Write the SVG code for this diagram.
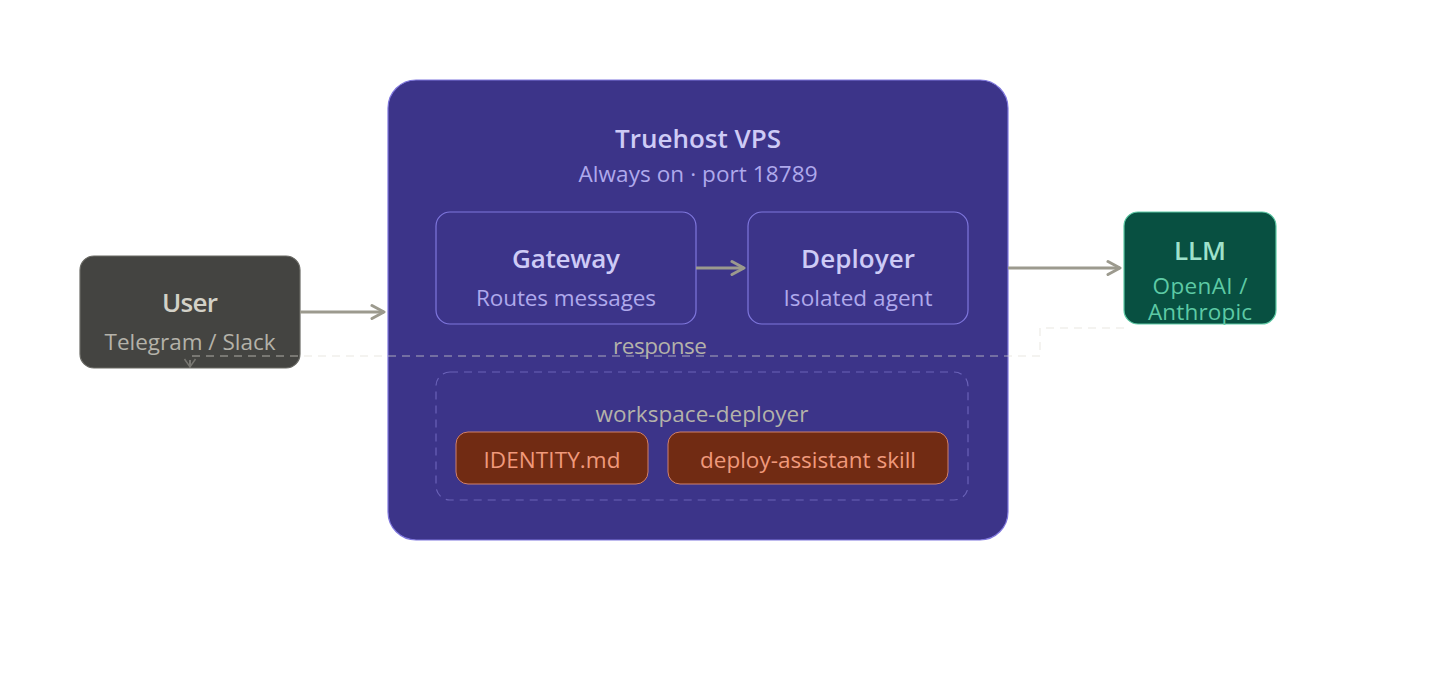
<svg xmlns="http://www.w3.org/2000/svg" width="1440" height="680" viewBox="0 0 1440 680">
<style>
text{font-family:"Open Sans","Noto Sans","Liberation Sans",sans-serif;text-anchor:middle}
.t{font-size:26px;font-weight:600}
.s{font-size:22.5px}
.a{fill:none;stroke:#9c9a8e;stroke-width:3}
.d{fill:none;stroke:#e0ded5;stroke-width:1.5;stroke-dasharray:8 6;opacity:.45}
</style>
<defs>
<marker id="ah" markerWidth="16" markerHeight="18" refX="14" refY="9" orient="auto" markerUnits="userSpaceOnUse"><path d="M2 2.5L14 9L2 15.5" fill="none" stroke="#9c9a8e" stroke-width="3" stroke-linecap="round" stroke-linejoin="round"/></marker>
<marker id="ad" markerWidth="12" markerHeight="14" refX="10" refY="7" orient="auto" markerUnits="userSpaceOnUse"><path d="M2 1.5L10 7L2 12.5" fill="none" stroke="#b4b2a9" stroke-width="1.5"/></marker>
</defs>
<rect width="1440" height="680" fill="#fff"/>
<g id="vps">
<rect x="388" y="80" width="620" height="460" rx="28" fill="#3c3489" stroke="#7f77dd" stroke-width="1.2"/>
<text class="t" x="698" y="148" fill="#cecbf6" textLength="166">Truehost VPS</text>
<text class="s" x="698" y="182" fill="#afa9ec" textLength="239">Always on · port 18789</text>
</g>
<g id="user">
<rect x="80" y="256" width="220" height="112" rx="14" fill="#444441" stroke="#6a6a65" stroke-width="1.2"/>
<text class="t" x="190" y="312" fill="#d3d1c7" textLength="56">User</text>
<text class="s" x="190" y="350" fill="#b4b2a9" textLength="171">Telegram / Slack</text>
</g>
<g id="gateway">
<rect x="436" y="212" width="260" height="112" rx="14" fill="#3c3489" stroke="#7f77dd" stroke-width="1.2"/>
<text class="t" x="566" y="268" fill="#cecbf6" textLength="108">Gateway</text>
<text class="s" x="566" y="306" fill="#afa9ec" textLength="180">Routes messages</text>
</g>
<g id="deployer">
<rect x="748" y="212" width="220" height="112" rx="14" fill="#3c3489" stroke="#7f77dd" stroke-width="1.2"/>
<text class="t" x="858" y="268" fill="#cecbf6" textLength="114">Deployer</text>
<text class="s" x="858" y="306" fill="#afa9ec" textLength="149">Isolated agent</text>
</g>
<g id="workspace">
<rect x="436" y="372" width="532" height="128" rx="14" fill="none" stroke="#6a62b8" stroke-width="1.2" stroke-dasharray="8 6"/>
<text class="s" x="702" y="422" fill="#b4b2a9" textLength="213">workspace-deployer</text>
</g>
<g id="identity">
<rect x="456" y="432" width="192" height="52" rx="12" fill="#712b13" stroke="#d0806a"/>
<text class="s" x="552" y="468" fill="#f0997b" textLength="137">IDENTITY.md</text>
</g>
<g id="skill">
<rect x="668" y="432" width="280" height="52" rx="12" fill="#712b13" stroke="#d0806a"/>
<text class="s" x="808" y="468" fill="#f0997b" textLength="216">deploy-assistant skill</text>
</g>
<g id="llm">
<rect x="1124" y="212" width="152" height="112" rx="14" fill="#085041" stroke="#5dcaa5" stroke-width="1.2"/>
<text class="t" x="1200" y="260" fill="#9fe1cb" textLength="52">LLM</text>
<text class="s" x="1200" y="294" fill="#5dcaa5" textLength="95">OpenAI /</text>
<text class="s" x="1200" y="320" fill="#5dcaa5" textLength="104">Anthropic</text>
</g>
<g id="connectors">
<path class="a" d="M300 312H384" marker-end="url(#ah)"/>
<path class="a" d="M696 268H744" marker-end="url(#ah)"/>
<path class="a" d="M1008 268H1120" marker-end="url(#ah)"/>
<path class="d" d="M1124 328H1040V356H190V367" marker-end="url(#ad)"/>
<text class="s" x="660" y="354" fill="#b4b2a9" textLength="94">response</text>
</g>
</svg>
